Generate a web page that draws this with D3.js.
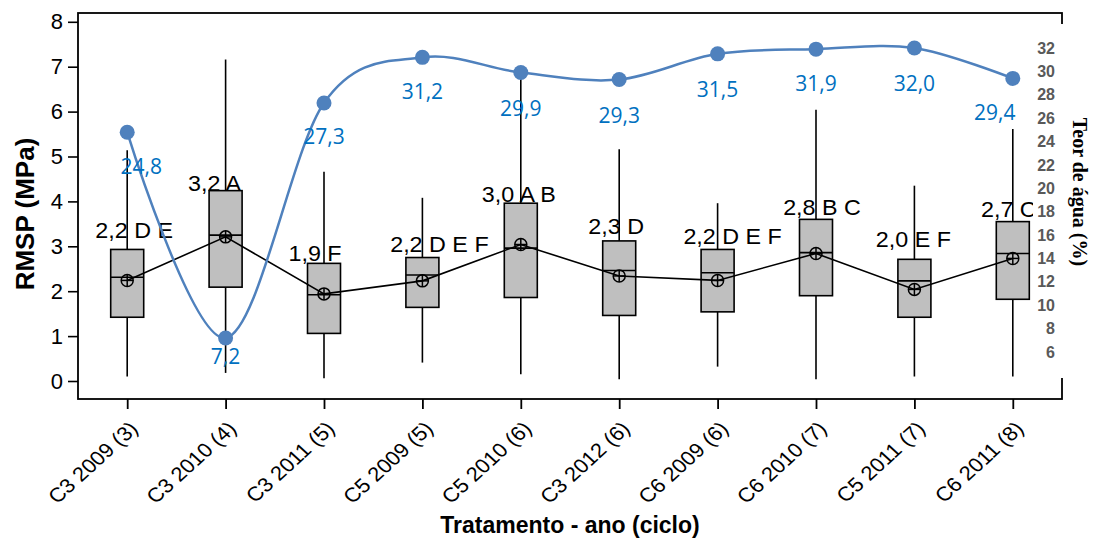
<!DOCTYPE html>
<html>
<head>
<meta charset="utf-8">
<script src="https://cdn.jsdelivr.net/npm/d3@7"></script>
<style>
  body { margin: 0; background: #fff; }
  svg { display: block; }
</style>
</head>
<body>
<svg id="chart" width="1094" height="547"></svg>
<script>
// Treatments (cut - year (cycle))
const categories = ["C3 2009 (3)", "C3 2010 (4)", "C3 2011 (5)", "C5 2009 (5)", "C5 2010 (6)",
                    "C3 2012 (6)", "C6 2009 (6)", "C6 2010 (7)", "C5 2011 (7)", "C6 2011 (8)"];

// RMSP (MPa) box statistics
const whiskerLow  = [0.10, 0.18, 0.06, 0.41, 0.15, 0.04, 0.32, 0.04, 0.10, 0.10];
const q1          = [1.42, 2.09, 1.06, 1.64, 1.86, 1.46, 1.54, 1.90, 1.42, 1.82];
const median      = [2.31, 3.25, 1.92, 2.36, 2.96, 2.46, 2.41, 2.86, 2.23, 2.84];
const q3          = [2.93, 4.24, 2.62, 2.75, 3.96, 3.12, 2.93, 3.60, 2.71, 3.55];
const whiskerHigh = [5.14, 7.16, 4.66, 4.08, 6.80, 5.16, 3.96, 6.04, 4.35, 5.61];
const mean        = [2.24, 3.21, 1.94, 2.23, 3.04, 2.34, 2.24, 2.84, 2.04, 2.73];
const groups      = ["D E", "A", "F", "D E F", "A B", "D", "D E F", "B C", "E F", "C"];

// Soil water content (%)
const waterContent = [24.8, 7.2, 27.3, 31.2, 29.9, 29.3, 31.5, 31.9, 32.0, 29.4];

// Axis ticks
const rmspTicks  = [0, 1, 2, 3, 4, 5, 6, 7, 8];
const waterTicks = [6, 8, 10, 12, 14, 16, 18, 20, 22, 24, 26, 28, 30, 32];

// ---- layout ----
const frame = { left: 78, right: 1062, top: 13, bottom: 399 };
// where each "mean + groups" label sits (RMSP units) and its horizontal nudge (px)
const groupLabelAt = [3.18, 4.23, 2.67, 2.88, 3.98, 3.27, 3.05, 3.70, 2.99, 3.66];
const groupLabelDx = [7, -11, -9, 17, -2, -3, 15, 6, -1, -4];
// nudges for the water-content labels (px)
const waterLabelDx = [14, 0, 0, 0, 0, 0, 0, 0, 0, -18];
const waterLabelDy = [42, 26, 41, 42, 43, 43, 43, 42, 43, 42];

const ptBR = d3.formatLocale({ decimal: ",", thousands: ".", grouping: [3], currency: ["R$", ""] });
const fmt1 = ptBR.format(".1f");

const svg = d3.select("#chart");
const sans = "Liberation Sans, Arial, sans-serif";

const x = d3.scalePoint()
  .domain(categories)
  .range([frame.left, frame.right])
  .padding(0.5);

const yL = d3.scaleLinear().domain([0, 8]).range([381, 21.8]);
const yR = d3.scaleLinear().domain([6, 32]).range([352, 48]);

const boxW = 33;
const data = categories.map((c, i) => ({
  cat: c, lo: whiskerLow[i], q1: q1[i], med: median[i], q3: q3[i], hi: whiskerHigh[i],
  mean: mean[i], grp: groups[i], water: waterContent[i], i
}));

// ---- box plots ----
const boxes = svg.append("g").attr("class", "boxes");
const bg = boxes.selectAll("g.box").data(data).join("g").attr("class", "box");

bg.append("line")
  .attr("x1", d => x(d.cat)).attr("x2", d => x(d.cat))
  .attr("y1", d => yL(d.q3)).attr("y2", d => yL(d.hi))
  .attr("stroke", "#000").attr("stroke-width", 1.6);
bg.append("line")
  .attr("x1", d => x(d.cat)).attr("x2", d => x(d.cat))
  .attr("y1", d => yL(d.q1)).attr("y2", d => yL(d.lo))
  .attr("stroke", "#000").attr("stroke-width", 1.6);
bg.append("rect")
  .attr("x", d => x(d.cat) - boxW / 2).attr("width", boxW)
  .attr("y", d => yL(d.q3)).attr("height", d => yL(d.q1) - yL(d.q3))
  .attr("fill", "#bfbfbf").attr("stroke", "#000").attr("stroke-width", 1.6);
bg.append("line")
  .attr("x1", d => x(d.cat) - boxW / 2).attr("x2", d => x(d.cat) + boxW / 2)
  .attr("y1", d => yL(d.med)).attr("y2", d => yL(d.med))
  .attr("stroke", "#000").attr("stroke-width", 1.6);

// mean line and ⊕ markers
svg.append("path")
  .datum(data)
  .attr("fill", "none").attr("stroke", "#000").attr("stroke-width", 1.6)
  .attr("d", d3.line().x(d => x(d.cat)).y(d => yL(d.mean)));

const mk = svg.append("g").selectAll("g").data(data).join("g")
  .attr("transform", d => `translate(${x(d.cat)},${yL(d.mean)})`);
mk.append("circle").attr("r", 6).attr("fill", "none").attr("stroke", "#000").attr("stroke-width", 1.5);
mk.append("line").attr("x1", -6).attr("x2", 6).attr("stroke", "#000").attr("stroke-width", 1.5);
mk.append("line").attr("y1", -6).attr("y2", 6).attr("stroke", "#000").attr("stroke-width", 1.5);

// mean + Tukey group labels
svg.append("g").selectAll("text").data(data).join("text")
  .attr("transform", d => `translate(${x(d.cat) + groupLabelDx[d.i]},${yL(groupLabelAt[d.i])}) scale(1.06,1)`)
  .attr("text-anchor", "middle")
  .attr("font-family", sans)
  .attr("font-size", 22)
  .attr("fill", "#000")
  .text(d => `${fmt1(d.mean)} ${d.grp}`);

// ---- frame & axes ----
svg.append("rect")
  .attr("x", frame.left).attr("y", frame.top)
  .attr("width", frame.right - frame.left).attr("height", frame.bottom - frame.top)
  .attr("fill", "none").attr("stroke", "#000").attr("stroke-width", 1.8);

const axL = svg.append("g")
  .attr("transform", `translate(${frame.left},0)`)
  .call(d3.axisLeft(yL).tickValues(rmspTicks).tickSize(10).tickPadding(5).tickFormat(d3.format("d")));
axL.select(".domain").remove();
axL.selectAll("line").attr("stroke-width", 1.6);
axL.selectAll("text").attr("font-family", sans).attr("font-size", 22).attr("fill", "#000");

const axB = svg.append("g")
  .attr("transform", `translate(0,${frame.bottom})`)
  .call(d3.axisBottom(x).tickSize(10).tickSizeOuter(0));
axB.select(".domain").remove();
axB.selectAll("line").attr("stroke-width", 1.8);
axB.selectAll("text")
  .attr("x", null).attr("y", null).attr("dy", null)
  .attr("transform", "translate(6,26) scale(1.1,1) rotate(-45)")
  .attr("text-anchor", "end")
  .attr("dominant-baseline", "central")
  .attr("font-family", sans)
  .attr("font-size", 20)
  .attr("fill", "#000");

svg.append("text")
  .attr("transform", "translate(34,214) rotate(-90)")
  .attr("text-anchor", "middle")
  .attr("font-family", sans)
  .attr("font-weight", "bold").attr("font-size", 26)
  .text("RMSP (MPa)");

svg.append("text")
  .attr("x", 570).attr("y", 533)
  .attr("text-anchor", "middle")
  .attr("font-family", sans)
  .attr("font-weight", "bold").attr("font-size", 23)
  .text("Tratamento - ano (ciclo)");

// ---- water content series (secondary axis) ----
svg.append("rect")
  .attr("x", 1033).attr("y", 24).attr("width", 61).attr("height", 354)
  .attr("fill", "#fff");

const axR = svg.append("g")
  .attr("transform", "translate(1055,0)")
  .call(d3.axisRight(yR).tickValues(waterTicks).tickSize(0).tickPadding(0));
axR.select(".domain").remove();
axR.selectAll("text")
  .attr("x", 0).attr("text-anchor", "end")
  .attr("font-family", sans)
  .attr("font-weight", "bold").attr("font-size", 16)
  .attr("fill", "#595959");

svg.append("text")
  .attr("transform", "translate(1073,192) rotate(90)")
  .attr("text-anchor", "middle")
  .attr("font-family", "Liberation Serif, serif")
  .attr("font-weight", "bold").attr("font-size", 20)
  .text("Teor de água (%)");

svg.append("path")
  .datum(data)
  .attr("fill", "none").attr("stroke", "#4f81bd").attr("stroke-width", 2.5)
  .attr("d", d3.line().curve(d3.curveCardinal.tension(0)).x(d => x(d.cat)).y(d => yR(d.water)));

svg.append("g").selectAll("circle").data(data).join("circle")
  .attr("cx", d => x(d.cat)).attr("cy", d => yR(d.water)).attr("r", 7.5)
  .attr("fill", "#4f81bd");

svg.append("g").selectAll("text").data(data).join("text")
  .attr("x", d => x(d.cat) + waterLabelDx[d.i])
  .attr("y", d => yR(d.water) + waterLabelDy[d.i])
  .attr("text-anchor", "middle")
  .attr("font-family", "Open Sans, Noto Sans, sans-serif")
  .attr("font-size", 21)
  .attr("fill", "#0070c0")
  .text(d => fmt1(d.water));
</script>
</body>
</html>
